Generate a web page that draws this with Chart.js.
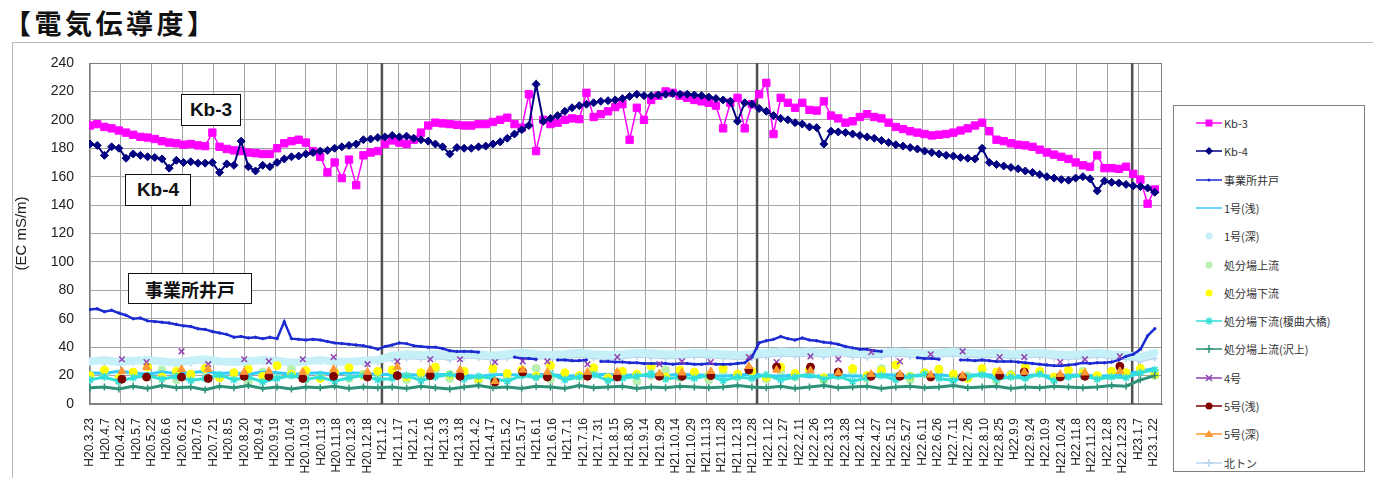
<!DOCTYPE html>
<html>
<head>
<meta charset="utf-8">
<title>電気伝導度</title>
<script src="https://cdn.jsdelivr.net/npm/chart.js@4.4.1/dist/chart.umd.min.js"></script>
<style>
  body { margin: 0; background: #fff; font-family: "Noto Sans CJK JP", sans-serif; }
  #page { position: relative; width: 1373px; height: 478px; overflow: hidden; }
  #title { position: absolute; left: 4px; top: 8px; font-size: 27px; line-height: 30px; font-weight: bold; letter-spacing: 3.5px; color: #111; }
  #frame { position: absolute; left: 12px; top: 42px; width: 1362px; height: 440px; border: 1px solid #b8b8b8; }
  #chart { position: absolute; left: 0; top: 0; }
  #legend { position: absolute; left: 1173px; top: 105px; width: 190px; height: 365px; border: 1px solid #808080; background: #fff; }
  .row { position: absolute; left: 22px; height: 14px; display: flex; align-items: center; font-size: 11px; color: #333; white-space: nowrap; }
  .row svg { margin-right: 2px; }
  .tag { position: absolute; border: 1.5px solid #111; background: #fff; font: bold 19px "Liberation Sans", Arial, sans-serif; color: #111; box-sizing: border-box; display: flex; align-items: center; justify-content: center; }
  .tag.jp { font-family: "Noto Sans CJK JP", sans-serif; font-size: 18px; }
</style>
</head>
<body>
<div id="page">
  <div id="title">【電気伝導度】</div>
  <div id="frame"></div>
  <canvas id="chart" width="1373" height="478"></canvas>
  <div class="tag" style="left:181px;top:94px;width:60px;height:32px">Kb-3</div>
  <div class="tag" style="left:125px;top:174px;width:66px;height:32px">Kb-4</div>
  <div class="tag jp" style="left:128px;top:273px;width:124px;height:31px">事業所井戸</div>
  <div id="legend"></div>
</div>
<script>
// x axis: days since H20.3.23, one label every 15 days
const tickLabels = [
  "H20.3.23", "H20.4.7", "H20.4.22", "H20.5.7", "H20.5.22", "H20.6.6", "H20.6.21", "H20.7.6", "H20.7.21", "H20.8.5",
  "H20.8.20", "H20.9.4", "H20.9.19", "H20.10.4", "H20.10.19", "H20.11.3", "H20.11.18", "H20.12.3", "H20.12.18", "H21.1.2",
  "H21.1.17", "H21.2.1", "H21.2.16", "H21.3.3", "H21.3.18", "H21.4.2", "H21.4.17", "H21.5.2", "H21.5.17", "H21.6.1",
  "H21.6.16", "H21.7.1", "H21.7.16", "H21.7.31", "H21.8.15", "H21.8.30", "H21.9.14", "H21.9.29", "H21.10.14", "H21.10.29",
  "H21.11.13", "H21.11.28", "H21.12.13", "H21.12.28", "H22.1.12", "H22.1.27", "H22.2.11", "H22.2.26", "H22.3.13", "H22.3.28",
  "H22.4.12", "H22.4.27", "H22.5.12", "H22.5.27", "H22.6.11", "H22.6.26", "H22.7.11", "H22.7.26", "H22.8.10", "H22.8.25",
  "H22.9.9", "H22.9.24", "H22.10.9", "H22.10.24", "H22.11.8", "H22.11.23", "H22.12.8", "H22.12.23", "H23.1.7", "H23.1.22"
];
const yearLineDays = [284, 649, 1014];

// weekly readings (every 7 days from day 0)
const weekStep = 7;
const kb3 = [
  196, 197, 195, 194, 192.5, 191, 189.5, 188, 187.5, 186.5,
  185, 184, 183.5, 182.5, 183, 182, 181.5, 191, 181, 179.5,
  178.5, 178, 177, 176.5, 176, 176, 180, 183.5, 185, 186,
  184, 178, 174, 163, 170, 159, 172, 154, 175, 177,
  178, 183, 185.5, 184, 183, 186, 191, 196, 198, 197.5,
  197, 196.5, 196, 196, 197, 197, 198.5, 200, 201.5, 197,
  194.5, 218, 178, 200, 197, 198, 200, 201, 200.5, 219,
  202, 204, 206, 209, 211, 186, 208.5, 200, 214, 217,
  220, 219, 217, 215.5, 214, 213, 212, 210, 194, 212,
  215.5, 194, 211, 218, 226, 190, 215.5, 212, 208.5, 212,
  207, 206.5, 213, 203, 201, 198, 199, 202, 204, 202,
  201, 198, 195, 193.5, 192, 191, 190, 189, 189.5, 190,
  191, 192.5, 194, 196, 198, 192, 186, 185, 183.5, 182.5,
  182, 181, 179, 177, 175.5, 174, 172.5, 170, 168, 167,
  175, 166, 166, 165.5, 167, 162, 158, 141, 151
];
const kb4 = [
  183, 182, 175, 181, 180, 173, 176, 175, 174, 173.5,
  172.5, 166, 171.5, 170, 170.5, 169.5, 169.5, 170, 163, 169,
  168, 185, 167, 164, 168, 167, 170, 172.5, 174, 174.5,
  176, 177, 178, 178.5, 180, 181, 182, 183, 186, 186.5,
  187.5, 188, 189, 188, 188.5, 187, 186, 185, 183, 181,
  176, 180.5, 180, 180, 181, 181.5, 183, 184.5, 187, 190,
  193, 196, 225, 199, 201, 203, 206, 208.5, 210, 211,
  212, 213, 213.5, 214, 215, 216.5, 218, 217, 217, 217.5,
  218, 218.5, 218, 218, 217.5, 217, 216, 215, 214, 213,
  199, 212, 211, 208, 206, 203, 201, 200, 198, 197,
  195, 194.5, 183, 192, 191.5, 191, 190, 189, 188, 187,
  185.5, 184, 182.5, 181.5, 180.5, 179.5, 178, 177, 176, 175,
  174.5, 173.5, 173, 172.5, 180, 170, 168.5, 167.5, 166.5, 165.5,
  164, 163, 161.5, 160, 159, 158, 157.5, 159, 160, 158.5,
  150, 157, 156, 155.5, 154.5, 153.5, 153, 152, 149
];
const officeWell = [
  66.5, 67, 65, 66, 64, 62.5, 60, 60.5, 58.5, 58,
  57.5, 57, 56, 55, 54.5, 53, 52.5, 51, 50, 49,
  47, 47.5, 46.5, 47, 46, 47, 46, 58, 46, 45.5,
  45, 45.5, 45, 44, 43, 42.5, 42, 41.5, 41, 40,
  38.5, 40.5, 41.5, 43, 42.5, 41, 40.5, 40, 40, 39,
  37.5, 37, 37, 37, 36.5, null, null, null, null, 33,
  32, 32, 31.5, null, null, 31, 31, 30.5, 30.5, 31,
  null, 30, 30, 29.5, 29.5, 29, 29, 28.5, 28.5, 28.5,
  28.5, 28, 28.5, 28.5, 28, 28, 28.5, 28, 28, 28,
  28.5, 29, 33, 43, 44.5, 45.5, 47.5, 46, 45, 46.5,
  45, 44.5, 43.5, 43, 42, 40.5, 39.5, 38.5, 38.5, 37.5,
  37, null, null, null, null, 32.5, 32, 32, 31.5, null,
  null, 31, 31, 30.5, 31, 30.5, 30, 30, 30, 29.5,
  29, 28.5, 28, 27.5, 27, 27, 27.5, 28, 29, 28.5,
  29, 29, 29.5, 31, 33.5, 35, 38.5, 48, 53
];

// fortnightly readings (every 14 days from day 0)
const fortnightStep = 14;
const no1Shallow = [
  22, 21.5, 23, 22, 21, 22.5, 21.5, 22, 23, 21.5, 22, 21, 22.5, 22, 21,
  21.5, 22, 21, 22, 21.5, 21, 20.5, 21, 20, 20.5, 21, 20, 19.5, 20.5, 21,
  20, 20.5, 21, 19.5, 20, 20.5, 21, 20, 20.5, 19.5, 20, 21, 20.5, 20, 19.5,
  20.5, 21, 20, 19.5, 20.5, 19, 20, 20.5, 19.5, 20, 21, 20, 19.5, 20, 20.5,
  19.5, 20, 21, 20, 19.5, 20, 20.5, 19, 20, 20.5, 19.5, 20, 21, 23, 25
];
const no1Deep = [
  30, 31, 29.5, 30.5, 31, 30, 29, 30.5, 31.5, 30, 29.5, 30, 31, 30.5, 29,
  30, 31, 30, 29.5, 30.5, 31, 34, 35, 34.5, 35, 34, 35.5, 35, 34, 35,
  36, 35, 34.5, 35, 36, 35, 34.5, 35, 36, 35.5, 35, 35, 36, 35.5, 35,
  34.5, 35, 36, 37, 36.5, 37, 36, 37.5, 36, 35.5, 36, 37, 36, 35.5, 36,
  37, 36, 35.5, 36, 35, 35.5, 36, 35, 34.5, 35, 36, 35, 34.5, 33, 36
];
const siteUpstream = [
  18, 21, 16.5, 22, 19, 24, 17, 20, 23, 18.5, 21.5, 16, 22.5, 19.5, 24.5,
  17.5, 20.5, 23, 18, 21, 19, 22, 17, 20, 24, 18, 21.5, 16.5, 23, 19,
  20.5, 25, 17.5, 21, 19.5, 23.5, 18, 22, 16, 20, 24, 18.5, 21, 17, 22.5,
  19, 21, 17.5, 23, 19, 24.5, 16.5, 20, 22, 18, 25, 19.5, 17, 21.5, 23.5,
  18, 20, 24, 16.5, 21, 19, 22.5, 17.5, 20.5, 23, 18.5, 21, 22, 24, 20
];
const siteDownstream = [
  20, 24, 18, 22.5, 26, 19, 23, 21, 25, 18.5, 22, 24.5, 19.5, 27, 21,
  23.5, 18, 22, 25.5, 20, 23, 24, 19, 22, 26, 20.5, 23, 18, 25, 21.5,
  24, 19.5, 27, 22, 20, 25.5, 18.5, 23, 21, 26.5, 19, 24, 22.5, 20, 25,
  21, 23, 19, 26, 21.5, 24, 18.5, 22, 25, 20, 23.5, 27.5, 19.5, 22, 24.5,
  21, 18, 25, 22.5, 20, 26, 23, 19, 24, 21.5, 20, 23, 22, 25, 21
];
const enomagari = [
  17, 19, 16, 18.5, 20, 17.5, 19.5, 16.5, 18, 20.5, 17, 19, 15.5, 18, 20,
  17.5, 19, 16, 18.5, 20, 17, 18, 20, 16.5, 19, 21, 17.5, 19.5, 18, 16,
  20, 18.5, 21, 17, 19, 20.5, 16.5, 18, 19.5, 21.5, 17.5, 19, 18, 20, 16.5,
  19, 18, 20.5, 17, 19, 21, 17.5, 19.5, 16, 18.5, 20, 17, 19.5, 21, 18,
  16.5, 19, 20.5, 17.5, 19, 18, 21, 16.5, 19, 20, 17.5, 19, 18.5, 22, 24
];
const sawagami = [
  11.5, 12, 10.5, 12.5, 11, 13, 11.5, 12, 10, 12.5, 11.5, 13, 11, 12, 10.5,
  12, 11.5, 12.5, 11, 12, 11.5, 12, 11, 12.5, 11.5, 10.5, 12, 13, 11.5, 12,
  11, 12.5, 12, 11, 13, 11.5, 12, 12.5, 11, 12, 11.5, 12.5, 12, 11.5, 12,
  13, 12, 11.5, 12.5, 11, 12, 13, 11.5, 12, 12.5, 11, 12, 12.5, 11.5, 12,
  13, 11.5, 12, 12.5, 11, 12, 11.5, 12.5, 12, 11.5, 12, 13, 12.5, 17, 20
];
const kitaton = [
  29, 28.5, 30, 29, 28, 29.5, 30, 28.5, 29, 30.5, 29, 28, 29.5, 30, 29,
  28.5, 29.5, 30, 29, 28.5, 29, 31, 32, 31.5, 32, 31, 32.5, 32, 31, 32,
  33, 32, 31.5, 32, 33, 32, 31.5, 32, 33, 32.5, 32, 32, 33, 32.5, 32,
  31.5, 32, 33, 34, 33.5, 34, 33, 34.5, 33, 32.5, 33, 34, 33, 32.5, 33,
  34, 33, 32.5, 33, 32, 32.5, 33, 32, 31.5, 32, 33, 32, 31.5, 30, 32
];

// monthly samples
const monthlyDays = [31, 55, 89, 115, 150, 174, 207, 237, 270, 299, 331, 360, 394, 421, 445, 484, 513,
  554, 576, 604, 641, 668, 701, 728, 760, 788, 818, 849, 885, 909, 944, 968, 1002];
const no4 = [31.5, 29.5, 37, 28, 31.5, 30, 31.5, 33, 28, 30, 31.5, 31.5, 29.5, 30, 30, 28, 33,
  28, 30, 29.5, 33, 29.5, 33.5, 31.5, 36.5, 30, 35, 37, 33, 33, 29.5, 31.5, 33.5];
const no5Shallow = [17.5, 19, 19, 18, 19.5, 19.5, 18, 19.5, 19, 20, 20, 19.5, 15.5, 22.5, 19, 19.5, 19,
  19.5, 19.5, 20, 24, 26, 26, 22.5, 19.5, 19.5, 19, 19, 20, 22.5, 19, 19.5, 26.5];
const no5Deep = [23, 26, 24.5, 24.5, 22.5, 23, 22.5, 24.5, 22.5, 26, 24, 24, 16, 24, 22.5, 22.5, 22.5,
  21.5, 22, 23, 26.5, 24, 23.5, 22, 21, 21, 20.5, 20, 23, 22.5, 21, 22, 23];

const stepped = (vals, step) => vals.map((v, i) => ({x: i * step, y: v}));
const onDays = (days, vals) => days.map((d, i) => ({x: d, y: vals[i]}));

// legend order; z = drawing layer (higher is on top)
const series = [
  {name: "Kb-3", data: stepped(kb3, weekStep), color: "#ff00ff", style: "rect", r: 5.2, width: 1.5, line: true, z: 9},
  {name: "Kb-4", data: stepped(kb4, weekStep), color: "#000080", style: "rectRot", r: 4, width: 2, line: true, z: 10},
  {name: "事業所井戸", data: stepped(officeWell, weekStep), color: "#1c2bd1", style: "circle", r: 1.2, width: 2.5, line: true, z: 8},
  {name: "1号(浅)", data: stepped(no1Shallow, fortnightStep), color: "#33ccff", style: "circle", r: 0, width: 3, line: true, z: 3},
  {name: "1号(深)", data: stepped(no1Deep, fortnightStep), color: "#c6f0f7", style: "circle", r: 3.5, width: 8, line: true, legendLine: false, z: 1},
  {name: "処分場上流", data: stepped(siteUpstream, fortnightStep), color: "#b8f0b0", style: "circle", r: 4, width: 0, line: false, z: 2},
  {name: "処分場下流", data: stepped(siteDownstream, fortnightStep), color: "#ffff00", style: "circle", r: 4, width: 0, line: false, z: 4},
  {name: "処分場下流(榎曲大橋)", data: stepped(enomagari, fortnightStep), color: "#33e0d8", style: "star", r: 4, width: 3, line: true, z: 5},
  {name: "処分場上流(沢上)", data: stepped(sawagami, fortnightStep), color: "#2e9278", style: "cross", r: 3.5, width: 3, line: true, z: 6},
  {name: "4号", data: onDays(monthlyDays, no4), color: "#9040b0", style: "crossRot", r: 4, width: 1, line: false, legendLine: true, z: 11},
  {name: "5号(浅)", data: onDays(monthlyDays, no5Shallow), color: "#800000", style: "circle", r: 4, width: 1, line: false, legendLine: true, z: 12},
  {name: "5号(深)", data: onDays(monthlyDays, no5Deep), color: "#ff9933", style: "triangle", r: 4.5, width: 1, line: false, legendLine: true, z: 13},
  {name: "北トン", data: stepped(kitaton, fortnightStep), color: "#b8d4f0", style: "cross", r: 3, width: 1.5, line: true, z: 0}
];

const datasets = series.map(s => ({
  label: s.name,
  data: s.data,
  borderColor: s.color,
  backgroundColor: s.color,
  borderWidth: s.width,
  showLine: s.line,
  spanGaps: false,
  tension: 0,
  pointStyle: s.style,
  pointRadius: s.r,
  pointBackgroundColor: s.color,
  pointBorderColor: s.color,
  pointBorderWidth: s.style === "cross" || s.style === "crossRot" || s.style === "star" ? 1.5 : 1,
  order: 50 - s.z
}));

yearLineDays.forEach(d => datasets.push({
  label: "",
  data: [{x: d, y: 0}, {x: d, y: 240}],
  borderColor: "#505050",
  borderWidth: 2.5,
  pointRadius: 0,
  showLine: true,
  order: 100
}));

const plotBorder = {
  id: "plotBorder",
  beforeDatasetsDraw(chart) {
    const {ctx, chartArea: a} = chart;
    ctx.save();
    ctx.strokeStyle = "#808080";
    ctx.lineWidth = 1;
    ctx.strokeRect(a.left + 0.5, a.top + 0.5, a.right - a.left - 1, a.bottom - a.top - 1);
    ctx.restore();
  }
};

new Chart(document.getElementById("chart"), {
  type: "scatter",
  data: {datasets},
  plugins: [plotBorder],
  options: {
    responsive: false,
    animation: false,
    events: [],
    layout: {padding: {left: 12, top: 63, right: 211, bottom: 0}},
    plugins: {legend: {display: false}, tooltip: {enabled: false}},
    scales: {
      x: {
        type: "linear",
        min: -1,
        max: 1043,
        afterFit: s => { s.height = 74; },
        border: {color: "#808080"},
        grid: {
          drawTicks: false,
          color: c => (c.tick && Math.round(c.tick.value) % 30 === 0) ? "#a4a4a4" : "rgba(0,0,0,0)"
        },
        ticks: {
          stepSize: 15,
          includeBounds: false,
          autoSkip: false,
          minRotation: 90,
          maxRotation: 90,
          padding: 14,
          color: "#222",
          font: {family: "Liberation Sans, Arial, sans-serif", size: 12},
          callback: v => tickLabels[Math.round(v / 15)] ?? ""
        }
      },
      y: {
        min: 0,
        max: 240,
        afterFit: s => { s.width = 77; },
        border: {color: "#808080"},
        grid: {drawTicks: false, color: "#a4a4a4"},
        ticks: {
          stepSize: 20,
          padding: 15,
          color: "#222",
          font: {family: "Liberation Sans, Arial, sans-serif", size: 14}
        },
        title: {
          display: true,
          text: "(EC mS/m)",
          color: "#222",
          padding: {top: 1, bottom: 0},
          font: {family: "Liberation Sans, Arial, sans-serif", size: 15}
        }
      }
    }
  }
});

// legend: line sample + marker, like the spreadsheet legend
function legendIcon(s) {
  const c = s.color, p = [];
  const showLine = s.legendLine !== undefined ? s.legendLine : s.line;
  if (showLine) p.push(`<line x1="0" y1="7" x2="26" y2="7" stroke="${c}" stroke-width="1.5"/>`);
  if (s.r > 0 || s.style !== "circle") {
    switch (s.style) {
      case "rect": p.push(`<rect x="9.5" y="3.5" width="7" height="7" fill="${c}"/>`); break;
      case "rectRot": p.push(`<polygon points="13,3 17,7 13,11 9,7" fill="${c}"/>`); break;
      case "triangle": p.push(`<polygon points="13,3 17.5,10 8.5,10" fill="${c}"/>`); break;
      case "cross": p.push(`<path d="M13 3V11M9 7H17" stroke="${c}" stroke-width="1.5"/>`); break;
      case "crossRot": p.push(`<path d="M10 4L16 10M16 4L10 10" stroke="${c}" stroke-width="1.5"/>`); break;
      case "star": p.push(`<path d="M13 3V11M9 7H17M10 4L16 10M16 4L10 10" stroke="${c}" stroke-width="1.2"/>`); break;
      default: p.push(`<circle cx="13" cy="7" r="${Math.min(Math.max(s.r, 1.5), 3.5)}" fill="${c}"/>`);
    }
  }
  return `<svg width="26" height="14">${p.join("")}</svg>`;
}
const legend = document.getElementById("legend");
series.forEach((s, i) => {
  const row = document.createElement("div");
  row.className = "row";
  row.style.top = (10 + i * 28.3) + "px";
  row.innerHTML = legendIcon(s) + `<span>${s.name}</span>`;
  legend.appendChild(row);
});
</script>
</body>
</html>
